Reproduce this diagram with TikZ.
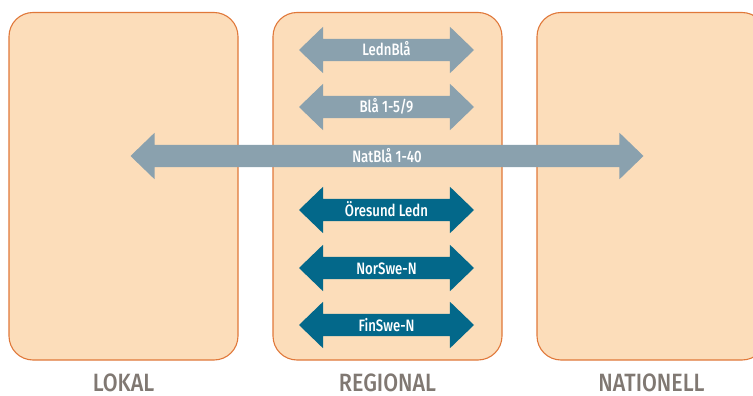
\documentclass[tikz,border=0pt]{standalone}
\usepackage{fontspec}
\usepackage{tikz}
\usetikzlibrary{shapes,positioning}
\newfontfamily\arrowfont{Fira Sans Medium}[FakeStretch=0.8]
\newfontfamily\levelfont{Fira Sans Medium}[FakeStretch=0.86]
\definecolor{boxfill}{RGB}{252,221,186}
\definecolor{boxline}{RGB}{224,120,58}
\definecolor{lightarrow}{RGB}{138,161,174}
\definecolor{darkarrow}{RGB}{3,104,138}
\definecolor{levelgray}{RGB}{128,120,114}

\begin{document}
\begin{tikzpicture}[x=1pt,y=-1pt,
level/.style={
draw=boxline,
fill=boxfill,
line width=1.1pt,
rounded corners=24pt,
minimum width=229pt,
minimum height=347.5pt,
inner sep=0pt,
},
levelname/.style={
anchor=base,
inner sep=0pt,
text depth=0pt,
text=levelgray,
font=\levelfont\fontsize{25}{25}\selectfont,
},
link/.style={
double arrow,
double arrow head extend=12pt,
double arrow tip angle=88,
inner xsep=0pt,
inner ysep=5pt,
text height=12pt,
text depth=0pt,
text=white,
font=\arrowfont\fontsize{16.5}{16.5}\selectfont,
minimum height=175pt,
},
]
\useasboundingbox (0,0) rectangle (753,396);
\begin{scope}
\clip (0,0) rectangle (753,396);
\node [level] (lokal)     at (123.5,186.25) {};
\node [level] (regional)  at (387.5,186.25) {};
\node [level] (nationell) at (651.5,186.25) {};
\end{scope}

\node [levelname] (lokalname)     at (123.5,391) {LOKAL};
\node [levelname] (regionalname)  at (387.5,391) {REGIONAL};
\node [levelname] (nationellname) at (651.5,391) {NATIONELL};

\node [link,fill=lightarrow] (lednbla)  at (386.5,50)  {LednBlå};
\node [link,fill=lightarrow] (bla)      at (386.5,107) {Blå 1-5/9};
\node [link,fill=lightarrow,minimum height=513pt] (natbla) at (387,156) {NatBlå 1-40};
\node [link,fill=darkarrow]  (oresund)  at (386.5,210) {Öresund Ledn};
\node [link,fill=darkarrow]  (norswe)   at (386.5,268) {NorSwe-N};
\node [link,fill=darkarrow]  (finswe)   at (386.5,325) {FinSwe-N};
\end{tikzpicture}
\end{document}
